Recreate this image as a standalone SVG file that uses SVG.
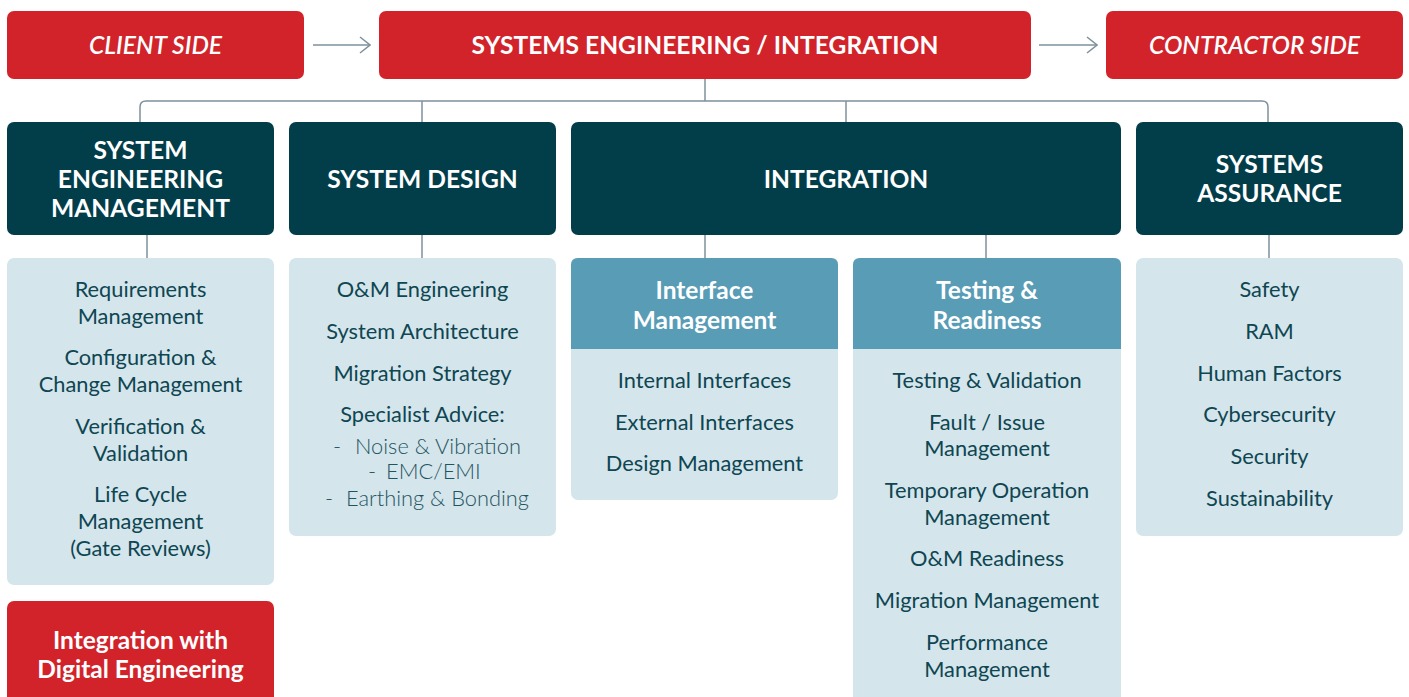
<svg xmlns="http://www.w3.org/2000/svg" width="1409" height="697" viewBox="0 0 1409 697">
<defs>
<style>
.red{fill:#d2232a}
.dark{fill:#023d4a}
.light{fill:#d5e5ec}
.mid{fill:#589cb6}
.conn{stroke:#7d909c;stroke-width:1.5;fill:none}
.top{font-family:Lato,"Open Sans",sans-serif;font-weight:700;fill:#fff;text-anchor:middle;font-size:24.6px}
.topi{font-style:italic;font-weight:600}
.hd{font-family:Lato,"Open Sans",sans-serif;font-weight:700;fill:#fff;text-anchor:middle;font-size:24.6px}
.sub{font-family:Lato,"Open Sans",sans-serif;font-weight:700;fill:#fff;text-anchor:middle;font-size:24.5px}
.it{font-family:Lato,"Open Sans",sans-serif;font-weight:400;fill:#0e4652;text-anchor:middle;font-size:21.8px}
.lt{font-weight:300;fill:#1f5561;text-anchor:start}
</style>
<marker id="chev" viewBox="0 0 12 18" refX="11" refY="9" markerWidth="12" markerHeight="18" markerUnits="userSpaceOnUse" orient="auto">
<path d="M1,1 L11,9 L1,17" fill="none" stroke="#7d909c" stroke-width="1.5"/>
</marker>
</defs>
<rect width="1409" height="697" fill="#fff"/>

<g id="connectors">
<line class="conn" x1="313" y1="45" x2="370" y2="45" marker-end="url(#chev)"/>
<line class="conn" x1="1039" y1="45" x2="1097" y2="45" marker-end="url(#chev)"/>
<line class="conn" x1="705" y1="79" x2="705" y2="101"/>
<path class="conn" d="M140,122 V107 Q140,101 146,101 H1262 Q1268,101 1268,107 V122"/>
<line class="conn" x1="422" y1="101" x2="422" y2="122"/>
<line class="conn" x1="846" y1="101" x2="846" y2="122"/>
<line class="conn" x1="147" y1="235" x2="147" y2="258"/>
<line class="conn" x1="422" y1="235" x2="422" y2="258"/>
<line class="conn" x1="705" y1="235" x2="705" y2="258"/>
<line class="conn" x1="986" y1="235" x2="986" y2="258"/>
<line class="conn" x1="1269" y1="235" x2="1269" y2="258"/>
</g>

<g id="client-side">
<rect class="red" x="7" y="11" width="297" height="68" rx="7"/>
<text class="top topi" x="155.5" y="54">CLIENT SIDE</text>
</g>
<g id="systems-engineering">
<rect class="red" x="379" y="11" width="652" height="68" rx="7"/>
<text class="top" x="705" y="54">SYSTEMS ENGINEERING / INTEGRATION</text>
</g>
<g id="contractor-side">
<rect class="red" x="1106" y="11" width="297" height="68" rx="7"/>
<text class="top topi" x="1254.5" y="54">CONTRACTOR SIDE</text>
</g>

<g id="sem-head">
<rect class="dark" x="7" y="122" width="267" height="113" rx="7"/>
<text class="hd" x="140.5" y="159">SYSTEM</text>
<text class="hd" x="140.5" y="188">ENGINEERING</text>
<text class="hd" x="140.5" y="217">MANAGEMENT</text>
</g>
<g id="design-head">
<rect class="dark" x="289" y="122" width="267" height="113" rx="7"/>
<text class="hd" x="422.5" y="188">SYSTEM DESIGN</text>
</g>
<g id="integration-head">
<rect class="dark" x="571" y="122" width="550" height="113" rx="7"/>
<text class="hd" x="846" y="188">INTEGRATION</text>
</g>
<g id="assurance-head">
<rect class="dark" x="1136" y="122" width="267" height="113" rx="7"/>
<text class="hd" x="1269.5" y="173">SYSTEMS</text>
<text class="hd" x="1269.5" y="202">ASSURANCE</text>
</g>

<g id="sem-list">
<rect class="light" x="7" y="258" width="267" height="327" rx="7"/>
<text class="it" x="140.5" y="297">Requirements</text>
<text class="it" x="140.5" y="324">Management</text>
<text class="it" x="140.5" y="365">Configuration &amp;</text>
<text class="it" x="140.5" y="392">Change Management</text>
<text class="it" x="140.5" y="434">Verification &amp;</text>
<text class="it" x="140.5" y="461">Validation</text>
<text class="it" x="140.5" y="502">Life Cycle</text>
<text class="it" x="140.5" y="529">Management</text>
<text class="it" x="140.5" y="556">(Gate Reviews)</text>
</g>

<g id="design-list">
<rect class="light" x="289" y="258" width="267" height="278" rx="7"/>
<text class="it" x="422.5" y="297">O&amp;M Engineering</text>
<text class="it" x="422.5" y="339">System Architecture</text>
<text class="it" x="422.5" y="381">Migration Strategy</text>
<text class="it" x="422.5" y="422">Specialist Advice:</text>
<text class="it lt" y="454"><tspan x="333">-</tspan><tspan x="355">Noise &amp; Vibration</tspan></text>
<text class="it lt" y="479"><tspan x="368">-</tspan><tspan x="386">EMC/EMI</tspan></text>
<text class="it lt" y="506"><tspan x="325">-</tspan><tspan x="346">Earthing &amp; Bonding</tspan></text>
</g>

<g id="interface-management">
<rect class="light" x="571" y="258" width="267" height="242" rx="7"/>
<path class="mid" d="M578,258 H831 Q838,258 838,265 V349 H571 V265 Q571,258 578,258 Z"/>
<text class="sub" x="704.5" y="299">Interface</text>
<text class="sub" x="704.5" y="329">Management</text>
<text class="it" x="704.5" y="388">Internal Interfaces</text>
<text class="it" x="704.5" y="430">External Interfaces</text>
<text class="it" x="704.5" y="471">Design Management</text>
</g>

<g id="testing-readiness">
<rect class="light" x="853" y="258" width="268" height="460" rx="7"/>
<path class="mid" d="M860,258 H1114 Q1121,258 1121,265 V349 H853 V265 Q853,258 860,258 Z"/>
<text class="sub" x="987" y="299">Testing &amp;</text>
<text class="sub" x="987" y="329">Readiness</text>
<text class="it" x="987" y="388">Testing &amp; Validation</text>
<text class="it" x="987" y="430">Fault / Issue</text>
<text class="it" x="987" y="456">Management</text>
<text class="it" x="987" y="498">Temporary Operation</text>
<text class="it" x="987" y="525">Management</text>
<text class="it" x="987" y="566">O&amp;M Readiness</text>
<text class="it" x="987" y="608">Migration Management</text>
<text class="it" x="987" y="650">Performance</text>
<text class="it" x="987" y="677">Management</text>
</g>

<g id="assurance-list">
<rect class="light" x="1136" y="258" width="267" height="278" rx="7"/>
<text class="it" x="1269.5" y="297">Safety</text>
<text class="it" x="1269.5" y="339">RAM</text>
<text class="it" x="1269.5" y="381">Human Factors</text>
<text class="it" x="1269.5" y="422">Cybersecurity</text>
<text class="it" x="1269.5" y="464">Security</text>
<text class="it" x="1269.5" y="506">Sustainability</text>
</g>

<g id="digital-engineering">
<rect class="red" x="7" y="601" width="267" height="110" rx="7"/>
<text class="sub" x="140.5" y="649">Integration with</text>
<text class="sub" x="140.5" y="678">Digital Engineering</text>
</g>
</svg>
